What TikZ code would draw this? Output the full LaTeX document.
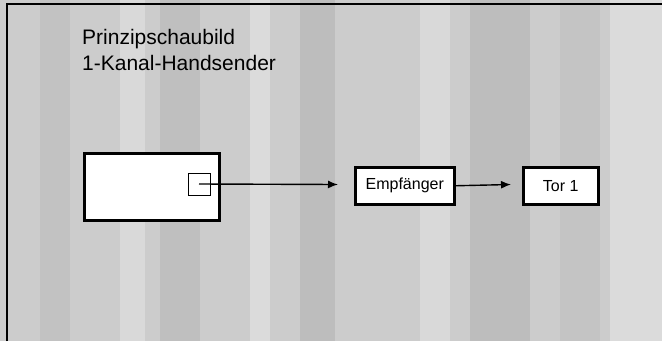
\documentclass[tikz,border=0pt]{standalone}
\usepackage{fontspec}
\setmainfont{Liberation Sans}
\usetikzlibrary{arrows.meta}
\begin{document}
\begin{tikzpicture}[x=1pt,y=-1pt,
  block/.style={draw=black,line width=2.5pt,fill=white,inner sep=0pt,anchor=north west},
  flow/.style={line width=1.4pt,-{Latex[length=10pt,width=8pt]}},
  label/.style={font=\fontsize{16}{16}\selectfont}]
  \useasboundingbox (0,0) rectangle (662,341);
  % screened background
  \fill[black!20] (0,0) rectangle (662,341);
  \foreach \x/\w/\s in {40/30/24,120/25/15,160/40/25,250/20/14,300/35/26,420/30/15,470/60/26,560/40/23,610/52/14}
    \fill[black!\s] (\x,0) rectangle ++(\w,341);
  % frame
  \draw[line width=1.5pt] (7,341) -- (7,4) -- (662,4);
  % title
  \node[anchor=north west,align=left,inner sep=0pt,font=\fontsize{21}{26}\selectfont] (title) at (82,29)
    {Prinzipschaubild\\1-Kanal-Handsender};
  % hand transmitter with button
  \node[block,minimum width=135pt,minimum height=67pt] (sender) at (83,152) {};
  \node[draw=black,line width=0.8pt,fill=white,minimum size=22pt,inner sep=0pt] (taste) at (199,184) {};
  % receiver and door
  \node[block,minimum width=99pt,minimum height=37pt] (empf) at (354,166) {};
  \node[label] at (empf.center) {Empf\"anger};
  \node[block,minimum width=75pt,minimum height=37pt] (tor) at (522,166) {};
  \node[label] at (tor.center) {Tor 1};
  \coordinate (ziel) at (338,184.5);
  \draw[flow] (taste.center) -- (ziel);
  \coordinate (ziel2) at (511,184.5);
  \draw[flow] (empf.east) -- (ziel2);
\end{tikzpicture}
\end{document}
